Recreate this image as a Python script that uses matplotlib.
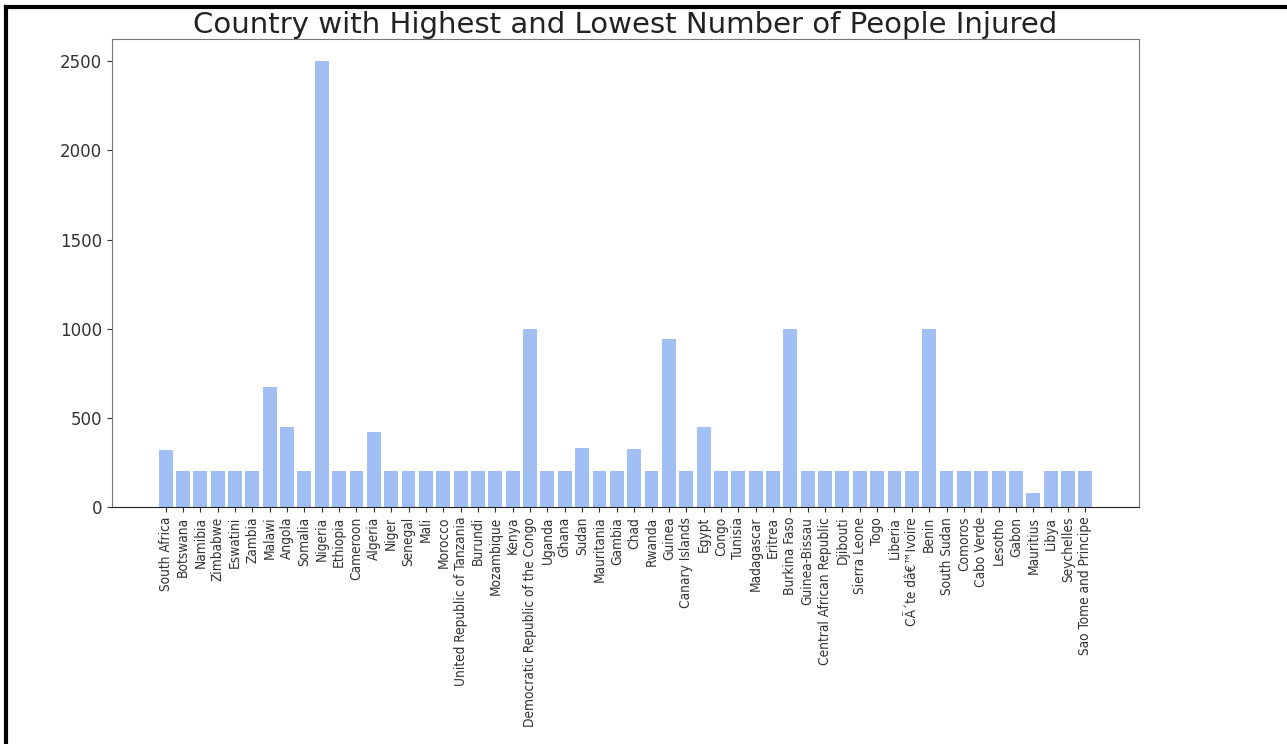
import matplotlib
matplotlib.use('Agg')
import matplotlib.pyplot as plt
from matplotlib import font_manager
from matplotlib.lines import Line2D

countries = [
    'South Africa', 'Botswana', 'Namibia', 'Zimbabwe', 'Eswatini', 'Zambia',
    'Malawi', 'Angola', 'Somalia', 'Nigeria', 'Ethiopia', 'Cameroon',
    'Algeria', 'Niger', 'Senegal', 'Mali', 'Morocco',
    'United Republic of Tanzania', 'Burundi', 'Mozambique', 'Kenya',
    'Democratic Republic of the Congo', 'Uganda', 'Ghana', 'Sudan',
    'Mauritania', 'Gambia', 'Chad', 'Rwanda', 'Guinea', 'Canary Islands',
    'Egypt', 'Congo', 'Tunisia', 'Madagascar', 'Eritrea', 'Burkina Faso',
    'Guinea-Bissau', 'Central African Republic', 'Djibouti', 'Sierra Leone',
    'Togo', 'Liberia', 'CÃ´te dâ€™Ivoire', 'Benin', 'South Sudan', 'Comoros',
    'Cabo Verde', 'Lesotho', 'Gabon', 'Mauritius', 'Libya', 'Seychelles',
    'Sao Tome and Principe',
]
injured = [
    320, 200, 200, 200, 200, 200,
    675, 450, 200, 2500, 200, 200,
    420, 200, 200, 200, 200,
    200, 200, 200, 200,
    1000, 200, 200, 330,
    200, 200, 325, 200, 940, 200,
    450, 200, 200, 200, 200, 1000,
    200, 200, 200, 200,
    200, 200, 200, 1000, 200, 200,
    200, 200, 200, 80, 200, 200,
    200,
]

# the x labels in the reference look condensed
has_condensed = any(f.name == 'DejaVu Sans' and f.stretch == 'condensed'
                    for f in font_manager.fontManager.ttflist)
xlabel_size = 9.8 if has_condensed else 8.8

fig = plt.figure(figsize=(12.87, 7.44), dpi=100)
ax = fig.add_axes([0.087, 0.3185, 0.798, 0.6291])

ax.bar(countries, injured, color='cornflowerblue', alpha=0.6)
ax.set_title('Country with Highest and Lowest Number of People Injured',
             fontsize=21, color='#222222', pad=3)

ax.tick_params(axis='y', labelsize=12, colors='#333333')
ax.tick_params(axis='x', colors='#333333')
for lbl in ax.get_xticklabels():
    lbl.set_rotation(90)
    lbl.set_fontsize(xlabel_size)
    lbl.set_fontstretch('condensed')
for sp in ['left', 'top', 'right']:
    ax.spines[sp].set_color('#777777')
ax.spines['bottom'].set_color('#222222')

# frame around the screenshot (left and top edges only)
fig.add_artist(Line2D([0.0047, 0.0047], [0, 0.99], transform=fig.transFigure,
                      color='black', linewidth=3))
fig.add_artist(Line2D([0.0047, 1.0], [0.99, 0.99], transform=fig.transFigure,
                      color='black', linewidth=3))

plt.savefig('out.png', dpi=100)
plt.close()
